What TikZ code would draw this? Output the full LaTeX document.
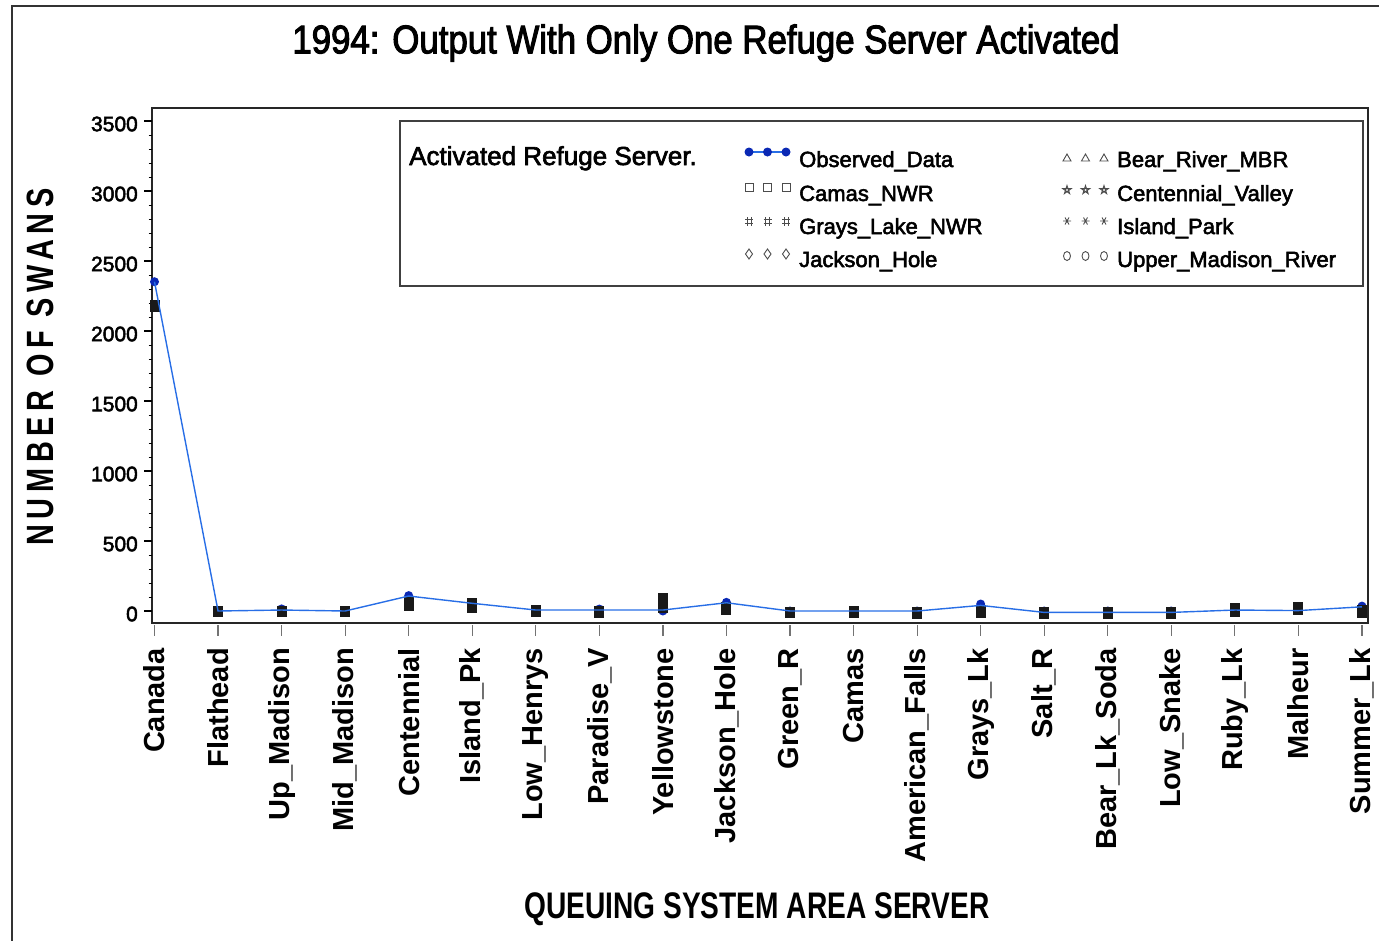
\documentclass[tikz,border=0pt]{standalone}
\usepackage{fontspec}
\setmainfont{Liberation Sans}
\newfontfamily\sasfont[FakeBold=2.5]{Liberation Sans}
\newfontfamily\sasnarrow[FakeBold=2.5,FakeStretch=0.87]{Liberation Sans}
\newfontfamily\labfont[FakeStretch=0.76]{Liberation Sans Bold}
\newfontfamily\ylabfont[FakeStretch=0.76,LetterSpace=15]{Liberation Sans Bold}
\definecolor{swanblue}{RGB}{40,110,230}
\definecolor{swandot}{RGB}{10,40,180}

\begin{document}
\begin{tikzpicture}[x=1pt,y=-1pt,
    frame/.style={line width=2.2pt,black!85},
    ticklabel/.style={anchor=east,inner sep=0pt,font=\sasfont\fontsize{21}{22}\selectfont},
    catlabel/.style={rotate=90,anchor=east,inner sep=0pt,font=\fontsize{29}{30}\selectfont\bfseries},
    legtext/.style={anchor=base west,inner sep=0pt,font=\sasfont\fontsize{22}{24}\selectfont},
    legmark/.style={draw=black!70,line width=0.9pt},
    obsline/.style={draw=swanblue,line width=1.4pt}]
  \useasboundingbox (0,0) rectangle (1379,940);

  % page frame, cut by the page edge
  \draw[line width=2pt,black!80] (12,960) -- (12,6) -- (1400,6);

  \node[font=\sasnarrow\fontsize{40}{44}\selectfont] (title) at (706,43) {1994: Output With Only One Refuge Server Activated};

  % axes
  \draw[frame] (152,108) rectangle (1368,623);
  \foreach \v in {0,100,...,3500}
    \draw[line width=0.9pt] (148.5,{611-0.14*\v}) -- (152,{611-0.14*\v});
  \foreach \v in {0,500,...,3500} {
    \draw[line width=1.2pt] (144,{611-0.14*\v}) -- (152,{611-0.14*\v});
    \node[ticklabel] (y\v) at (138,{614-0.14*\v}) {\v};
  }
  \foreach \name [count=\i from 0] in {Canada,Flathead,Up\_Madison,Mid\_Madison,Centennial,Island\_Pk,
      Low\_Henrys,Paradise\_V,Yellowstone,Jackson\_Hole,Green\_R,Camas,American\_Falls,Grays\_Lk,
      Salt\_R,Bear\_Lk\_Soda,Low\_Snake,Ruby\_Lk,Malheur,Summer\_Lk} {
    \pgfmathsetmacro\cx{154.5+63.55*\i}
    \draw[black!55,line width=1.2pt] (\cx,625) -- (\cx,636);
    \node[catlabel] (c\i) at (\cx,648) {\name};
  }

  \node[rotate=90,font=\ylabfont\fontsize{38}{40}\selectfont] (ylab) at (40,367) {NUMBER OF SWANS};
  \node[font=\labfont\fontsize{37}{40}\selectfont] (xlab) at (757,909) {QUEUING SYSTEM AREA SERVER};

  % data: x in servers, y in swans
  \begin{scope}[shift={(154.5,611)},x=63.55pt,y=0.14pt]
    \foreach \i/\o in {0/2352,1/0,2/15,3/0,4/110,5/55,6/7,7/14,8/0,9/62,10/0,11/0,12/0,13/50,
        14/0,15/0,16/0,17/10,18/5,19/35}
      \fill[swandot] (\i,\o) circle (4.5pt);
    \foreach \i/\m/\h in {0/2179/6,1/0/5.5,2/0/5.5,3/0/5.5,4/50/7,5/39/7.5,6/0/6,7/-7/6,8/57/10,
        9/18/6.5,10/-10/5.5,11/-10/6,12/-14/6,13/-4/6.5,14/-14/6,15/-14/6,16/-14/6,17/7/7,
        18/18/6.5,19/-4/6.5}
      \fill[black!90] ([xshift=-5pt,yshift=-\h pt]\i,\m) rectangle ([xshift=5pt,yshift=\h pt]\i,\m);
    \draw[obsline] (0,2352) -- (1,0) -- (2,7) -- (3,0) -- (4,107) -- (5,55) -- (6,7) -- (7,7)
      -- (8,7) -- (9,59) -- (10,0) -- (11,0) -- (12,0) -- (13,40) -- (14,-10) -- (15,-10)
      -- (16,-10) -- (17,7) -- (18,3) -- (19,30);
  \end{scope}

  % legend
  \draw[line width=1.2pt,black!75] (400,121) rectangle (1363,286);
  \node[anchor=base west,inner sep=0pt,font=\sasfont\fontsize{26}{28}\selectfont] (leghead) at (409,165) {Activated Refuge Server.};
  \foreach \txt/\row [count=\k] in {Observed\_Data/167,Camas\_NWR/201,Grays\_Lake\_NWR/234,Jackson\_Hole/267}
    \node[legtext] (la\k) at (799,\row) {\txt};
  \foreach \txt/\row [count=\k] in {Bear\_River\_MBR/167,Centennial\_Valley/201,Island\_Park/234,Upper\_Madison\_River/267}
    \node[legtext] (lb\k) at (1117,\row) {\txt};
  \draw[obsline] (749,152) -- (786,152);
  \foreach \x in {749,767.5,786} {
    \fill[swandot] (\x,152) circle (4.5pt);
    \draw[legmark] (\x-4,183) rectangle (\x+4,191);
    \draw[legmark] (\x-2,217) -- (\x-2,226) (\x+2,217) -- (\x+2,226)
      (\x-4,219.5) -- (\x+4,219.5) (\x-4,223.5) -- (\x+4,223.5);
    \draw[legmark] (\x,249) -- (\x+3.5,254) -- (\x,259) -- (\x-3.5,254) -- cycle;
  }
  \foreach \x in {1067,1085.5,1104} {
    \draw[legmark] (\x,154) -- (\x+4,161) -- (\x-4,161) -- cycle;
    \draw[legmark] (\x,190) +(270:4.5) -- +(54:4.5) -- +(198:4.5) -- +(342:4.5) -- +(126:4.5) -- cycle;
    \draw[legmark] (\x,221) +(-4,0) -- +(4,0) +(-2,-3.5) -- +(2,3.5) +(2,-3.5) -- +(-2,3.5);
    \draw[legmark] (\x,256) ellipse [x radius=3.5pt,y radius=4.5pt];
  }
\end{tikzpicture}
\end{document}
